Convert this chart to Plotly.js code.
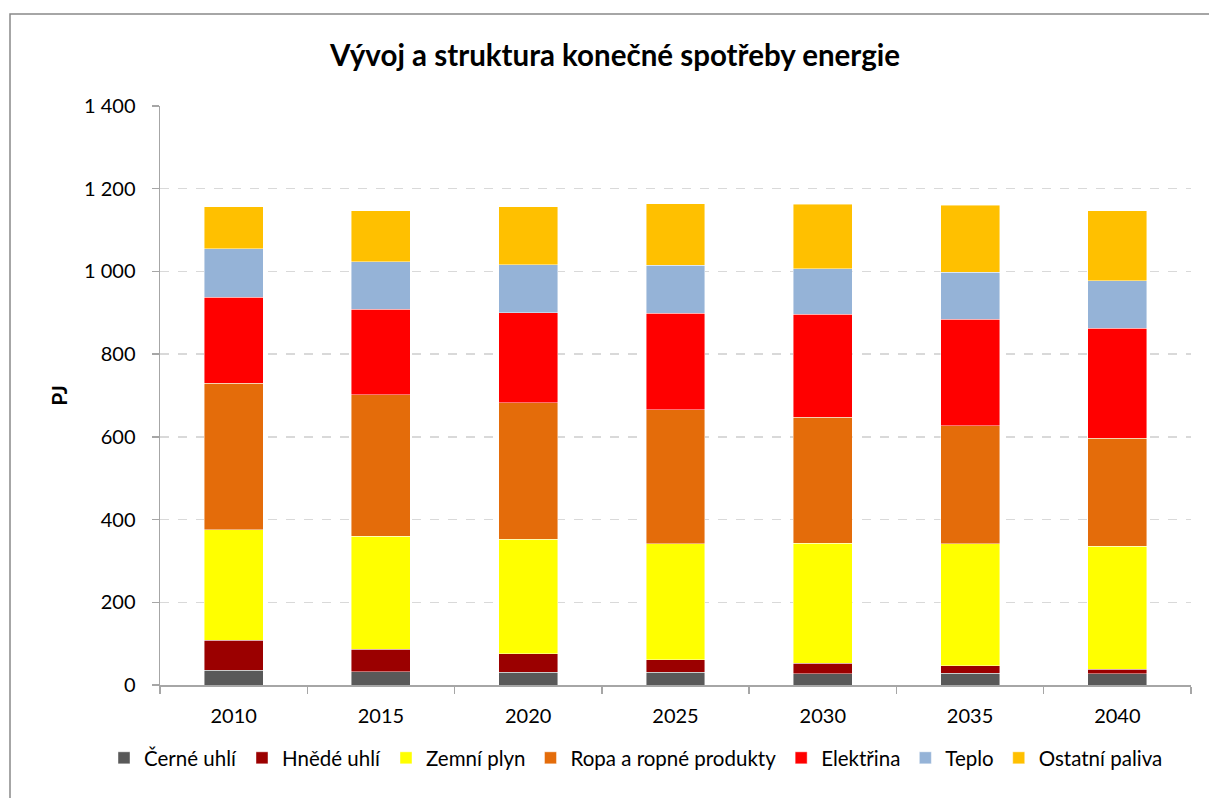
<!DOCTYPE html>
<html>
<head>
<meta charset="utf-8">
<script src="https://cdn.plot.ly/plotly-3.0.1.min.js"></script>
<style>
  html, body { margin: 0; padding: 0; background: #fff; }
  #chart { width: 1209px; height: 798px; }
</style>
</head>
<body>
<div id="chart"></div>
<script>
const years = ["2010", "2015", "2020", "2025", "2030", "2035", "2040"];
const seriesNames = ["Černé uhlí", "Hnědé uhlí", "Zemní plyn", "Ropa a ropné produkty", "Elektřina", "Teplo", "Ostatní paliva"];
const cerneUhli = [36, 32, 31, 31, 27, 28, 27];
const hnedeUhli = [72, 55, 44, 30, 26, 19, 11];
const zemniPlyn = [267, 273, 278, 280, 290, 295, 297];
const ropa = [355, 342, 330, 324, 305, 285, 262];
const elektrina = [207, 206, 217, 234, 248, 257, 266];
const teplo = [118, 116, 116, 116, 111, 114, 114];
const ostatni = [102, 123, 140, 149, 156, 162, 170];
const seriesColors = ["#595959", "#9b0000", "#ffff00", "#e46c0a", "#ff0000", "#95b3d7", "#ffc000"];

const seriesValues = [cerneUhli, hnedeUhli, zemniPlyn, ropa, elektrina, teplo, ostatni];
const FONT = "Lato, 'Liberation Sans', sans-serif";

const traces = seriesValues.map((vals, i) => ({
  type: "bar",
  name: seriesNames[i],
  x: years,
  y: vals,
  marker: { color: seriesColors[i], line: { color: "rgba(255,255,255,0.55)", width: 0.8 } },
  hoverinfo: "name+y"
}));

const layout = {
  width: 1209,
  height: 798,
  margin: { l: 160, r: 18, t: 106, b: 113, autoexpand: false },
  paper_bgcolor: "#ffffff",
  plot_bgcolor: "#ffffff",
  barmode: "stack",
  bargap: 0.6,
  separators: ", ",
  font: { family: FONT, size: 20, color: "#000000" },
  title: {
    text: "<b>Vývoj a struktura konečné spotřeby energie</b>",
    font: { family: FONT, size: 29.5, color: "#000000" },
    x: 0.5087, xref: "container", xanchor: "center",
    y: 1 - 56 / 798, yref: "container", yanchor: "middle"
  },
  xaxis: {
    type: "category",
    showgrid: false,
    showline: true,
    linecolor: "#a6a6a6",
    linewidth: 1.5,
    ticks: "outside",
    tickson: "boundaries",
    ticklen: 7,
    tickcolor: "#a6a6a6",
    tickwidth: 1.5,
    tickfont: { family: FONT, size: 20, color: "#000000" },
    ticklabelstandoff: 12
  },
  yaxis: {
    range: [0, 1400],
    dtick: 200,
    tickformat: ",d",
    showgrid: true,
    gridcolor: "#d9d9d9",
    gridwidth: 1.5,
    griddash: "dash",
    zeroline: false,
    showline: true,
    linecolor: "#a6a6a6",
    linewidth: 1.5,
    ticks: "outside",
    ticklen: 7,
    tickcolor: "#a6a6a6",
    tickwidth: 1.5,
    tickfont: { family: FONT, size: 20, color: "#000000" },
    ticklabelstandoff: 12,
    title: { text: "<b>PJ</b>", font: { family: FONT, size: 21, color: "#000000" }, standoff: 10 }
  },
  legend: {
    orientation: "h",
    traceorder: "normal",
    xref: "paper",
    x: (104 - 160) / 1031,
    xanchor: "left",
    yref: "paper",
    y: (685 - 758) / 579,
    yanchor: "middle",
    font: { family: FONT, size: 20.5, color: "#000000" },
    itemwidth: 30,
    tracegroupgap: 0,
    bgcolor: "rgba(0,0,0,0)"
  },
  shapes: [{
    type: "rect",
    xref: "paper", yref: "paper",
    x0: (10 - 160) / 1031, x1: 1.2,
    y0: -0.5, y1: (685 - 14) / 579,
    line: { color: "#898989", width: 1.5 },
    fillcolor: "rgba(0,0,0,0)",
    layer: "below"
  }]
};

Plotly.newPlot("chart", traces, layout, { displayModeBar: false, staticPlot: true });
</script>
</body>
</html>
